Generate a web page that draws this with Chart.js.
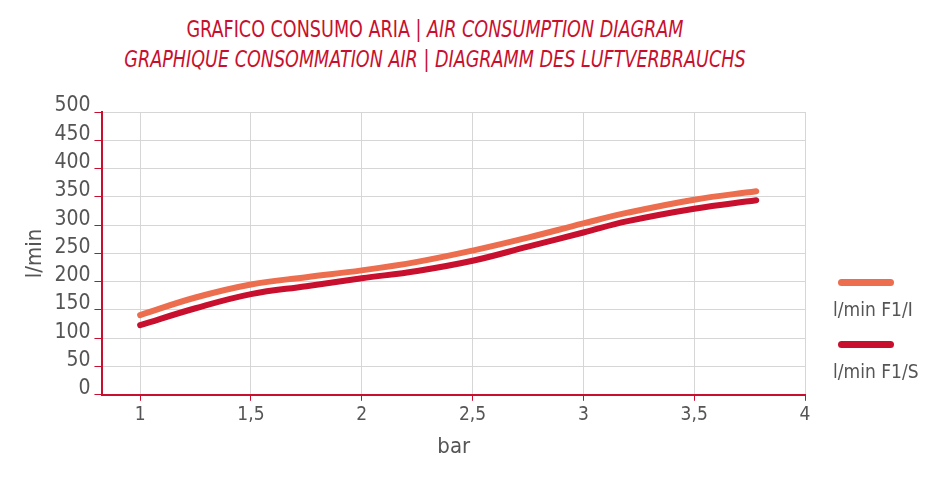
<!DOCTYPE html>
<html><head><meta charset="utf-8">
<script src="https://cdn.jsdelivr.net/npm/chart.js@4/dist/chart.umd.min.js"></script>
<style>
body{margin:0;background:#fff;width:939px;height:479px;overflow:hidden;font-family:"Liberation Sans Narrow","DejaVu Sans Condensed",sans-serif;}
#t{position:absolute;left:0;width:870px;top:14px;text-align:center;color:#c8102e;font-size:23px;line-height:30px;transform:scaleX(0.85);transform-origin:435px 0}
#wrap{position:absolute;left:0;top:80px;width:939px;height:384px}
.lg{position:absolute;left:833px;color:#555;font-size:19px}
.sw{position:absolute;left:838px;width:56px;height:7px;border-radius:4px}
</style></head><body>
<div id="t">GRAFICO CONSUMO ARIA | <i>AIR CONSUMPTION DIAGRAM</i><br><i>GRAPHIQUE CONSOMMATION AIR | DIAGRAMM DES LUFTVERBRAUCHS</i></div>
<div id="wrap"><canvas id="c"></canvas></div>
<div class="sw" style="top:279px;background:#ec6e4e"></div>
<div class="lg" style="top:298px">l/min F1/I</div>
<div class="sw" style="top:341px;background:#c8102e"></div>
<div class="lg" style="top:360px">l/min F1/S</div>
<script>
const pressure=[1,1.25,1.5,1.75,2,2.25,2.5,2.75,3,3.2,3.5,3.78];
const flowF1I=[141,172,195,208,220,235,255,278,303,322,345,360];
const flowF1S=[123,153,178,192,206,219,237,262,287,307,329,344];
const yTicks=[0,50,100,150,200,250,300,350,400,450,500];
const xTicks=[1,1.5,2,2.5,3,3.5,4];
const mk=(a)=>pressure.map((x,i)=>({x,y:a[i]}));
const F="'DejaVu Sans Condensed','Roboto',sans-serif";
new Chart(document.getElementById('c'),{type:'line',
data:{datasets:[
{label:'l/min F1/I',data:mk(flowF1I),borderColor:'#ec6e4e',borderWidth:6,pointRadius:0,tension:0.4,borderCapStyle:'round'},
{label:'l/min F1/S',data:mk(flowF1S),borderColor:'#c8102e',borderWidth:6,pointRadius:0,tension:0.4,borderCapStyle:'round'}]},
options:{responsive:true,maintainAspectRatio:false,animation:false,
layout:{padding:{left:20,right:134,top:32,bottom:0}},
plugins:{legend:{display:false},tooltip:{enabled:false}},
scales:{
x:{type:'linear',min:0.83,max:4,afterBuildTicks:s=>{s.ticks=xTicks.map(v=>({value:v}))},
 ticks:{color:'#555',font:{size:19,family:F},callback:v=>String(v).replace('.',','),autoSkip:false},
 border:{color:'#c8102e',width:2},
 grid:{color:'#d6d6d6',tickColor:'#c8102e',tickLength:6,drawTicks:true},
 title:{display:true,text:'bar',color:'#555',font:{size:22,family:F}}},
y:{min:0,max:500,afterBuildTicks:s=>{s.ticks=yTicks.map(v=>({value:v}))},
 ticks:{color:'#555',font:{size:21,family:F},labelOffset:-6,padding:4,autoSkip:false},
 border:{color:'#c8102e',width:2},
 grid:{color:'#d6d6d6',tickColor:'#c8102e',tickLength:8},
 title:{display:true,text:'l/min',color:'#555',font:{size:22,family:F},padding:2}}
}}});
</script></body></html>
